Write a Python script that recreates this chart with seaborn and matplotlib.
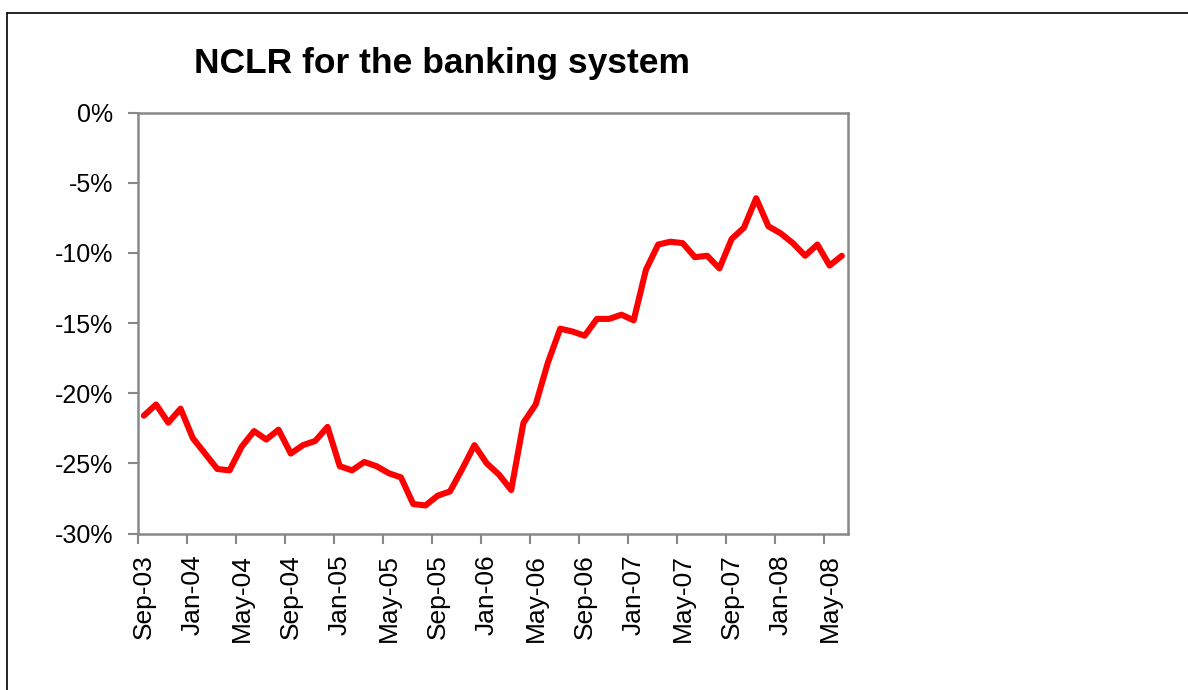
import matplotlib
matplotlib.use("Agg")
import matplotlib.pyplot as plt
import matplotlib.ticker as mticker
from matplotlib.lines import Line2D
import seaborn as sns
import pandas as pd
import numpy as np

# ---- data ----
months = pd.date_range("2003-09-01", periods=58, freq="MS").strftime("%b-%y").tolist()
nclr = [-21.6, -20.8, -22.1, -21.1, -23.2, -24.3, -25.4, -25.5, -23.8, -22.7,
        -23.3, -22.6, -24.3, -23.7, -23.4, -22.4, -25.2, -25.5, -24.9, -25.2,
        -25.7, -26.0, -27.9, -28.0, -27.3, -27.0, -25.4, -23.7, -25.0, -25.8,
        -26.9, -22.1, -20.8, -17.8, -15.4, -15.6, -15.9, -14.7, -14.7, -14.4,
        -14.8, -11.2, -9.4, -9.2, -9.3, -10.3, -10.2, -11.1, -9.0, -8.2,
        -6.1, -8.1, -8.6, -9.3, -10.2, -9.4, -10.9, -10.2]
y_ticks = [0, -5, -10, -15, -20, -25, -30]
title = "NCLR for the banking system"

df = pd.DataFrame({"idx": np.arange(len(months)), "month": months, "nclr": nclr})

sns.set_theme(style="white")
plt.rcParams["font.family"] = ["Liberation Sans", "DejaVu Sans"]
plt.rcParams["text.color"] = "black"
plt.rcParams["xtick.color"] = "black"
plt.rcParams["ytick.color"] = "black"

fig = plt.figure(figsize=(11.88, 6.9), dpi=100)
ax = fig.add_axes([0.1159, 0.2268, 0.5979, 0.6099])

sns.lineplot(data=df, x="idx", y="nclr", ax=ax, color="#FF0000", linewidth=4.4,
             solid_joinstyle="round", solid_capstyle="round")

ax.set_xlim(-0.5, len(months) - 0.5)
ax.set_ylim(-30, 0)
ax.set_xlabel("")
ax.set_ylabel("")

# y axis
ax.set_yticks(y_ticks)
ax.yaxis.set_major_formatter(mticker.FuncFormatter(lambda v, p: f"{v:.0f}%"))
ax.tick_params(axis="y", which="major", direction="out", length=7, width=1.5,
               color="#888888", labelcolor="black", labelsize=18, pad=10.5,
               left=True)

# x axis: ticks at category boundaries, labels at category centres
label_idx = list(range(0, len(months), 4))
ax.set_xticks([i - 0.5 for i in label_idx])
ax.set_xticklabels([])
ax.set_xticks(label_idx, minor=True)
ax.set_xticklabels([months[i] for i in label_idx], minor=True, rotation=90,
                   fontsize=19)
ax.tick_params(axis="x", which="major", direction="out", length=7, width=1.5,
               color="#888888", bottom=True)
ax.tick_params(axis="x", which="minor", length=0, pad=15, bottom=True,
               labelcolor="black")

for s in ax.spines.values():
    s.set_visible(True)
    s.set_color("#888888")
    s.set_linewidth(1.8)
ax.grid(False)

fig.text(442 / 1188, 1 - 73.3 / 690, title, ha="center", va="baseline",
         fontsize=25.5, fontweight="bold", color="black")

# outer frame lines
fig.add_artist(Line2D([7 / 1188, 1.0], [1 - 13.3 / 690, 1 - 13.3 / 690],
                      transform=fig.transFigure, color="black", linewidth=1.2))
fig.add_artist(Line2D([7 / 1188, 7 / 1188], [0.0, 1 - 13.3 / 690],
                      transform=fig.transFigure, color="black", linewidth=1.2))

fig.savefig("out.png", dpi=100)
